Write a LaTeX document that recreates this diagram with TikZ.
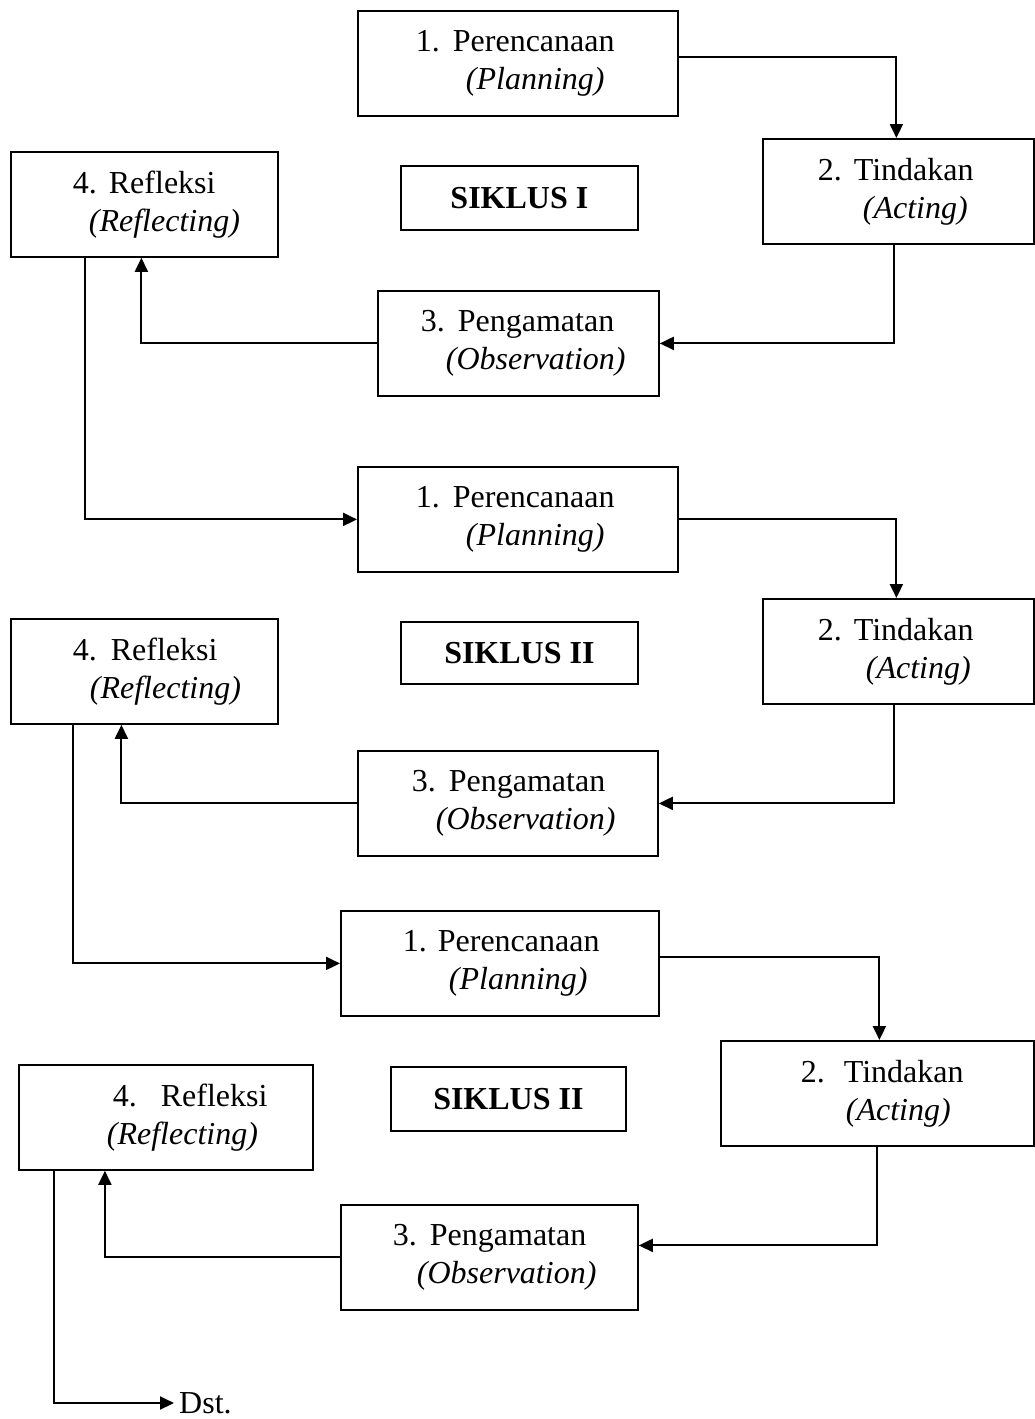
\documentclass[tikz,border=0pt]{standalone}
\usepackage{fontspec}
\setmainfont{Liberation Serif}
\usetikzlibrary{arrows.meta}
\setlength{\parindent}{0pt}

% numbered stage text: indent, gap, number, name, indent of second line, english name
\newcommand{\stg}[6]{\hspace*{#1pt}\makebox[#2pt][l]{#3}#4\\\hspace*{#5pt}\textit{#6}}

\begin{document}
\begin{tikzpicture}[
    x=1pt, y=-1pt,
    font=\fontsize{32pt}{38pt}\selectfont,
    stage/.style={draw, line width=1.8pt, rectangle, inner sep=0pt, anchor=north west, align=left, minimum height=105pt},
    cycle/.style={draw, line width=1.8pt, rectangle, inner sep=0pt, anchor=north west, minimum width=237pt, minimum height=64pt, font=\fontsize{32pt}{38pt}\selectfont\bfseries},
    flow/.style={line width=2pt, -{Triangle[length=14pt,width=13pt]}}
]
\useasboundingbox (0,0) rectangle (1035,1419);

% siklus I
\node (plan1) [stage, text width=320pt] at (357,10) {\stg{58}{37}{1.}{Perencanaan}{108}{(Planning)}};
\node (act1) [stage, text width=271pt] at (762,138) {\stg{55}{36}{2.}{Tindakan}{100}{(Acting)}};
\node (refl1) [stage, text width=267pt] at (10,151) {\stg{62}{36}{4.}{Refleksi}{78}{(Reflecting)}};
\node (sik1) [cycle] at (400,165) {SIKLUS I};
\node (obs1) [stage, text width=281pt] at (377,290) {\stg{43}{37}{3.}{Pengamatan}{68}{(Observation)}};

% siklus II
\node (plan2) [stage, text width=320pt] at (357,466) {\stg{58}{37}{1.}{Perencanaan}{108}{(Planning)}};
\node (act2) [stage, text width=271pt] at (762,598) {\stg{55}{36}{2.}{Tindakan}{103}{(Acting)}};
\node (refl2) [stage, text width=267pt] at (10,618) {\stg{62}{38}{4.}{Refleksi}{79}{(Reflecting)}};
\node (sik2) [cycle, minimum height=62pt] at (400,621) {SIKLUS II};
\node (obs2) [stage, text width=300pt] at (357,750) {\stg{54}{37}{3.}{Pengamatan}{78}{(Observation)}};

% siklus III
\node (plan3) [stage, text width=318pt] at (340,910) {\stg{62}{35}{1.}{Perencanaan}{108}{(Planning)}};
\node (act3) [stage, text width=313pt] at (720,1040) {\stg{80}{43}{2.}{Tindakan}{125}{(Acting)}};
\node (refl3) [stage, text width=294pt] at (18,1064) {\stg{94}{48}{4.}{Refleksi}{88}{(Reflecting)}};
\node (sik3) [cycle, minimum width=235pt] at (390,1066) {SIKLUS II};
\node (obs3) [stage, text width=297pt] at (340,1204) {\stg{52}{37}{3.}{Pengamatan}{76}{(Observation)}};

\node (dst) [anchor=west, inner sep=0pt, inner xsep=5pt] at (174,1403) {Dst.};

\draw[flow] ([yshift=6pt]plan1.east) -| ([xshift=-2pt]act1.north);
\draw[flow] ([xshift=-4pt]act1.south) |- (obs1.east);
\draw[flow] (obs1.west) -| ([xshift=-3pt]refl1.south);
\draw[flow] ([xshift=75pt]refl1.south west) |- (plan2.west);

\draw[flow] (plan2.east) -| ([xshift=-2pt]act2.north);
\draw[flow] ([xshift=-4pt]act2.south) |- (obs2.east);
\draw[flow] (obs2.west) -| ([xshift=-23pt]refl2.south);
\draw[flow] ([xshift=63pt]refl2.south west) |- (plan3.west);

\draw[flow] ([yshift=6pt]plan3.east) -| ([xshift=2pt]act3.north);
\draw[flow] (act3.south) |- ([yshift=12pt]obs3.east);
\draw[flow] (obs3.west) -| ([xshift=-61pt]refl3.south);
\draw[flow] ([xshift=36pt]refl3.south west) |- (dst.west);

\end{tikzpicture}
\end{document}
